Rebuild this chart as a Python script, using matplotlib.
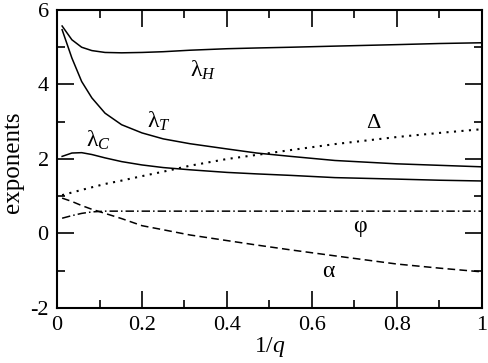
import matplotlib
matplotlib.use('Agg')
import matplotlib.pyplot as plt
from matplotlib.ticker import MultipleLocator

plt.rcParams['font.family'] = ['Liberation Serif', 'DejaVu Serif']
plt.rcParams['mathtext.fontset'] = 'custom'
plt.rcParams['mathtext.rm'] = 'Liberation Serif'
plt.rcParams['mathtext.it'] = 'Liberation Serif:italic'
plt.rcParams['axes.unicode_minus'] = False

# exponents versus 1/q
inv_q = [0.012, 0.035, 0.058, 0.082, 0.113, 0.152, 0.2, 0.25, 0.313, 0.4, 0.47, 0.55, 0.654, 0.8, 0.9, 1.0]

lambda_h = [5.57, 5.20, 5.00, 4.91, 4.86, 4.85, 4.86, 4.88, 4.92, 4.96, 4.98, 5.00, 5.03, 5.07, 5.10, 5.12]
lambda_t = [5.47, 4.71, 4.08, 3.64, 3.23, 2.92, 2.70, 2.54, 2.41, 2.27, 2.16, 2.07, 1.96, 1.87, 1.83, 1.79]
lambda_c = [2.07, 2.16, 2.17, 2.12, 2.03, 1.93, 1.84, 1.77, 1.71, 1.64, 1.60, 1.56, 1.50, 1.46, 1.43, 1.41]
delta = [1.03, 1.10, 1.17, 1.24, 1.33, 1.42, 1.54, 1.66, 1.82, 2.00, 2.11, 2.24, 2.40, 2.59, 2.70, 2.80]
phi = [0.41, 0.48, 0.54, 0.58, 0.60, 0.60, 0.60, 0.60, 0.60, 0.60, 0.60, 0.60, 0.60, 0.60, 0.60, 0.60]
alpha = [0.95, 0.86, 0.75, 0.65, 0.54, 0.40, 0.21, 0.10, -0.04, -0.19, -0.31, -0.44, -0.60, -0.82, -0.93, -1.03]

fig = plt.figure(figsize=(4.89, 3.63), dpi=100)
ax = fig.add_axes([0.1166, 0.1515, 0.869, 0.821])

lw = 1.1
ax.plot(inv_q, lambda_h, color='black', lw=lw)
ax.plot(inv_q, lambda_t, color='black', lw=lw)
ax.plot(inv_q, lambda_c, color='black', lw=lw)
ax.plot(inv_q, delta, color='black', lw=1.5, linestyle=(0, (1, 2.6)))
ax.plot(inv_q, phi, color='black', lw=lw, linestyle=(0, (5.5, 2, 1, 2)))
ax.plot(inv_q, alpha, color='black', lw=lw, linestyle=(0, (5, 2.8)))

# curve labels
fs = 17
ax.text(0.345, 4.38, r'λ$_{H}$', fontsize=fs, ha='center', va='center')
ax.text(0.24, 3.0, r'λ$_{T}$', fontsize=fs, ha='center', va='center')
ax.text(0.097, 2.5, r'λ$_{C}$', fontsize=fs, ha='center', va='center')
ax.text(0.745, 2.96, 'Δ', fontsize=16, ha='center', va='center')
ax.text(0.713, 0.2, 'φ', fontsize=fs, ha='center', va='center')
ax.text(0.638, -1.02, 'α', fontsize=fs, ha='center', va='center')

ax.set_xlim(0, 1)
ax.set_ylim(-2, 6)
ax.xaxis.set_minor_locator(MultipleLocator(0.1))
ax.yaxis.set_major_locator(MultipleLocator(2))
ax.yaxis.set_minor_locator(MultipleLocator(1))
ax.set_xticks([0, 0.2, 0.4, 0.6, 0.8, 1.0])
ax.set_xticklabels(['0', '0.2', '0.4', '0.6', '0.8', '1'])

ax.tick_params(which='both', direction='in', top=True, right=True, labelsize=16, width=1.2)
ax.tick_params(which='major', length=12, pad=6)
ax.tick_params(which='minor', length=6)
for s in ax.spines.values():
    s.set_linewidth(1.5)

ax.set_xlabel(r'1/$q$', fontsize=17, labelpad=0)
ax.set_ylabel('exponents', fontsize=18)
ax.yaxis.set_label_coords(-0.078, 0.49)

fig.savefig('out.png', dpi=100)
